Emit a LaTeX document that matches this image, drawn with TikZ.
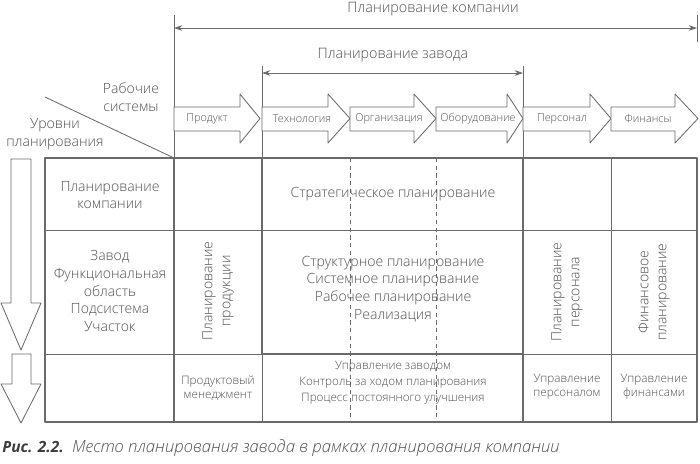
\documentclass[tikz,border=0pt]{standalone}
\usepackage{fontspec}
\setmainfont{Open Sans Light}[BoldFont={Open Sans Bold}, BoldItalicFont={Open Sans Bold Italic}, ItalicFont={Open Sans Light Italic}]
\usetikzlibrary{arrows.meta}
\definecolor{linegray}{HTML}{6A6A6A}
\definecolor{txtgray}{HTML}{505050}
\definecolor{capgray}{HTML}{3C3C3C}
\tikzset{
	thinline/.style={draw=linegray, line width=0.6pt},
	frameline/.style={draw=linegray, line width=1.5pt},
	dashline/.style={draw=linegray, line width=0.6pt, dash pattern=on 3pt off 2.5pt},
	dimline/.style={draw=linegray, line width=0.6pt, {Stealth[length=6pt,width=4pt]}-{Stealth[length=6pt,width=4pt]}},
	celltext/.style={text=txtgray, align=center, inner sep=0pt, font=\fontsize{10}{12.7}\selectfont},
	smalltext/.style={text=txtgray, align=center, inner sep=0pt, font=\fontsize{8.3}{9.7}\selectfont},
	hdrtext/.style={text=txtgray, inner sep=0pt, font=\fontsize{7.7}{10}\selectfont}
}
\begin{document}
\begin{tikzpicture}[x=0.025cm, y=-0.025cm, line join=round]
	\useasboundingbox (0,0) rectangle (700,463);
	% dimension lines on top
	\coordinate (cL) at (174,28); \coordinate (cR) at (697,28);
	\coordinate (zL) at (262,73); \coordinate (zR) at (523,73);
	\draw[dimline] (cL)--(cR);
	\draw[dimline] (zL)--(zR);
	\node[celltext, font=\fontsize{10.2}{13}\selectfont] (companyplan) at (433,9) {Планирование компании};
	\node[celltext, font=\fontsize{10.2}{13}\selectfont] (plantplan) at (393,55) {Планирование завода};
	\draw[thinline] (174,15)--(174,158);
	\draw[thinline] (262,66)--(262,158);
	\draw[thinline] (523,66)--(523,158);
	\draw[thinline] (697,15)--(697,42);
	% corner
	\draw[thinline] (45,97)--(174,158);
	\node[celltext] (worksys) at (131,97) {Рабочие\\системы};
	\node[celltext] (levels) at (55,134) {Уровни\\планирования};
	% block arrows of the work systems
	\foreach \a/\b/\c/\m/\t in {174/240/260/207/Продукт, 262/328/350/302/Технология, 350/414/436/389/Организация, 436/507/523/478/Оборудование, 523/590/611/562/Персонал, 611/675/698/648/Финансы}{
		\draw[thinline, fill=white] (\a,107)--(\b,107)--(\b,94)--(\c,118.5)--(\b,143)--(\b,131)--(\a,131)--cycle;
		\node[hdrtext] (hdr\a) at (\m,119) {\t};
	}
	% level arrows on the left
	\draw[thinline] (11,159)--(31,159)--(31,303)--(41,303)--(21,350)--(1,303)--(11,303)--cycle;
	\draw[thinline] (12,354)--(31,354)--(31,384)--(41,384)--(21,423)--(1,384)--(12,384)--cycle;
	% table grid
	\draw[thinline] (45,230)--(697,230);
	\draw[thinline] (45,354)--(697,354);
	\draw[thinline] (262,354)--(262,422);
	\draw[thinline] (611,158)--(611,422);
	\foreach \x in {350,436}{\draw[dashline] (\x,158)--(\x,422);}
	\draw[frameline] (174,158)--(174,422);
	\draw[frameline] (523,354)--(523,422);
	\draw[frameline] (262,158) rectangle (523,354);
	\draw[frameline] (45,158) rectangle (697,422);
	% cells
	\node[celltext] (companyrow) at (110,195) {Планирование\\компании};
	\node[celltext] (plantrow) at (110,291) {Завод\\Функциональная\\область\\Подсистема\\Участок};
	\node[celltext, rotate=90] (prodplan) at (218,291) {Планирование\\продукции};
	\node[celltext] (strat) at (393,194) {Стратегическое планирование};
	\node[celltext] (plantlevels) at (393,289) {Структурное планирование\\Системное планирование\\Рабочее планирование\\Реализация};
	\node[celltext, rotate=90] (persplan) at (567,292) {Планирование\\персонала};
	\node[celltext, rotate=90] (finplan) at (654,292) {Финансовое\\планирование};
	\node[smalltext] (prodmgmt) at (218,388) {Продуктовый\\менеджмент};
	\node[smalltext, font=\fontsize{8.3}{11.4}\selectfont] (plantmgmt) at (393,383) {Управление заводом\\Контроль за ходом планирования\\Процесс постоянного улучшения};
	\node[smalltext] (persmgmt) at (567,387) {Управление\\персоналом};
	\node[smalltext] (finmgmt) at (654,387) {Управление\\финансами};
	% caption
	\node[anchor=west, inner sep=0pt, text=txtgray, font=\fontsize{11.9}{13}\selectfont\itshape] (caption) at (2,448) {\textcolor{capgray}{\fontsize{11}{13}\selectfont\bfseries Рис. 2.2.}\enspace Место планирования завода в рамках планирования компании};
\end{tikzpicture}
\end{document}
